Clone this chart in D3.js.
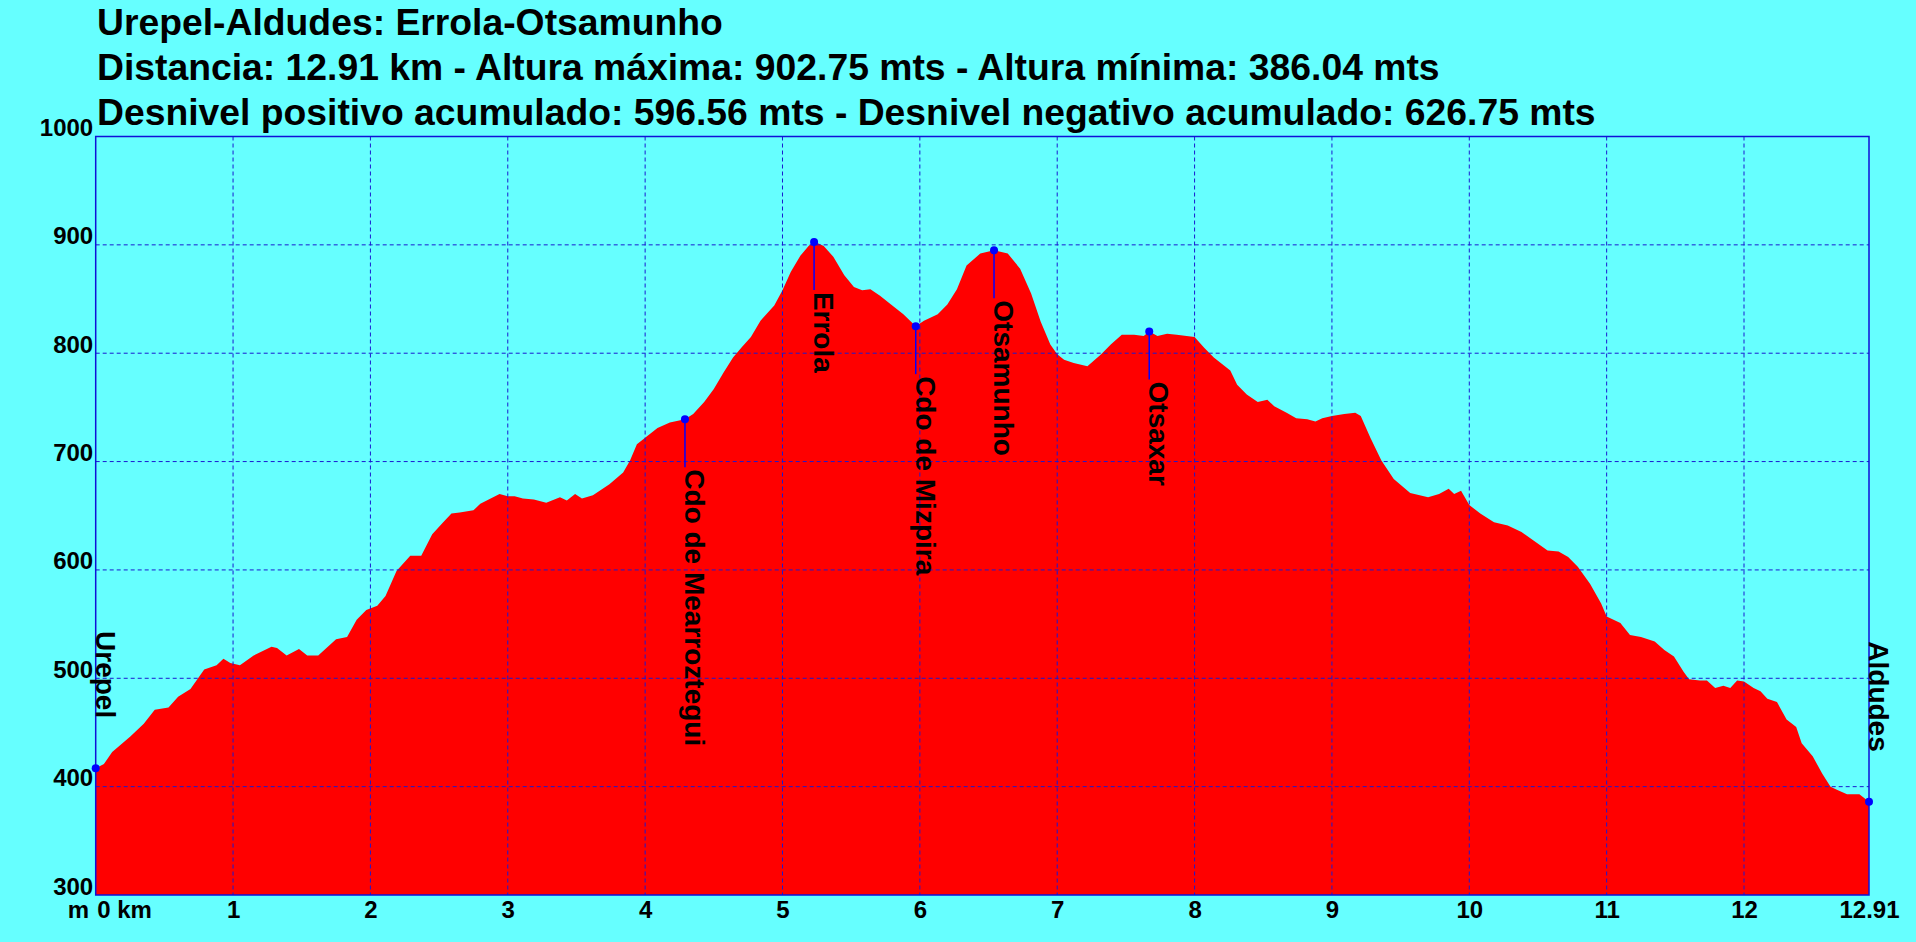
<!DOCTYPE html>
<html>
<head>
<meta charset="utf-8">
<script src="https://cdn.jsdelivr.net/npm/d3@7"></script>
<style>
  body { margin: 0; background: #66ffff; }
  svg { display: block; }
  text { font-family: "Liberation Sans", Arial, sans-serif; font-weight: bold; fill: #000; }
</style>
</head>
<body>
<div id="chart"></div>
<script>
// title lines
let titleLines = [
    "Urepel-Aldudes: Errola-Otsamunho",
    "Distancia: 12.91 km - Altura máxima: 902.75 mts - Altura mínima: 386.04 mts",
    "Desnivel positivo acumulado: 596.56 mts - Desnivel negativo acumulado: 626.75 mts"
];

// profile: distance (km) and elevation (m)
let distKm = [
    0.00, 0.06, 0.12, 0.25, 0.35, 0.43, 0.53, 0.60, 0.69, 0.79, 0.88, 0.93, 0.98, 1.05, 1.15, 1.28, 1.32, 1.39, 1.48, 1.54,
    1.62, 1.75, 1.83, 1.90, 1.97, 2.05, 2.11, 2.19, 2.29, 2.37, 2.45, 2.53, 2.59, 2.65, 2.75, 2.80, 2.94, 3.00, 3.05, 3.11,
    3.19, 3.28, 3.38, 3.43, 3.49, 3.54, 3.62, 3.74, 3.84, 3.89, 3.94, 4.00, 4.09, 4.18, 4.29, 4.35, 4.43, 4.50, 4.57, 4.64,
    4.70, 4.77, 4.84, 4.94, 5.00, 5.06, 5.13, 5.19, 5.23, 5.30, 5.37, 5.45, 5.52, 5.58, 5.64, 5.71, 5.79, 5.88, 5.97, 6.03,
    6.13, 6.20, 6.27, 6.34, 6.44, 6.54, 6.64, 6.73, 6.81, 6.88, 6.95, 7.00, 7.05, 7.12, 7.22, 7.32, 7.39, 7.47, 7.56, 7.63,
    7.67, 7.73, 7.80, 7.87, 8.00, 8.07, 8.14, 8.20, 8.26, 8.31, 8.38, 8.46, 8.53, 8.58, 8.67, 8.74, 8.82, 8.88, 8.93, 9.00,
    9.09, 9.17, 9.21, 9.28, 9.36, 9.45, 9.57, 9.70, 9.78, 9.85, 9.89, 9.94, 10.00, 10.08, 10.18, 10.28, 10.38, 10.47, 10.57, 10.65,
    10.72, 10.79, 10.88, 10.96, 11.00, 11.10, 11.17, 11.25, 11.35, 11.42, 11.49, 11.56, 11.60, 11.68, 11.73, 11.79, 11.85, 11.90, 11.95, 12.00,
    12.07, 12.12, 12.17, 12.24, 12.31, 12.38, 12.42, 12.50, 12.57, 12.63, 12.68, 12.75, 12.84, 12.91
];
let elevM = [
    417, 421, 432, 446, 458, 471, 473, 483, 490, 508, 512, 518, 514, 512, 521, 529, 528, 521, 527, 521,
    521, 536, 538, 554, 563, 567, 576, 599, 613, 613, 633, 644, 652, 653, 655, 661, 670, 668, 668, 666,
    665, 662, 667, 664, 670, 666, 669, 679, 690, 701, 716, 722, 731, 736, 739, 744, 755, 767, 782, 796,
    805, 815, 830, 844, 858, 875, 890, 899, 903, 899, 889, 872, 861, 858, 859, 853, 845, 836, 825, 830,
    836, 845, 859, 881, 892, 895, 892, 878, 855, 829, 808, 799, 794, 791, 788, 799, 808, 817, 817, 816,
    820, 816, 818, 817, 815, 805, 796, 790, 784, 771, 762, 755, 757, 751, 745, 740, 739, 737, 740, 742,
    744, 745, 742, 722, 701, 684, 671, 667, 670, 675, 670, 673, 660, 652, 644, 641, 635, 627, 618, 617,
    612, 603, 587, 569, 557, 551, 540, 538, 534, 526, 520, 506, 499, 498, 498, 491, 493, 491, 498, 497,
    491, 488, 481, 478, 462, 455, 440, 428, 412, 400, 397, 393, 393, 386
];

// waypoints
let wpNames = ["Urepel", "Cdo de Mearroztegui", "Errola", "Cdo de Mizpira", "Otsamunho", "Otsaxar", "Aldudes"];
let wpKm = [0, 4.29, 5.23, 5.97, 6.54, 7.67, 12.91];
let wpElev = [417, 739, 902.75, 825, 895, 820, 386.04];

// axes
let xTicks = [0, 1, 2, 3, 4, 5, 6, 7, 8, 9, 10, 11, 12, 12.91];
let yTicks = [300, 400, 500, 600, 700, 800, 900, 1000];

let width = 1916, height = 942;
let margin = {left: 95.7, right: 47, top: 136.5, bottom: 47};

let svg = d3.select("#chart").append("svg")
    .attr("width", width)
    .attr("height", height);

let x = d3.scaleLinear()
    .domain([0, 12.91])
    .range([margin.left, width - margin.right]);

let y = d3.scaleLinear()
    .domain([300, 1000])
    .range([height - margin.bottom, margin.top]);

// titles
svg.append("g")
    .selectAll("text")
    .data(titleLines)
    .join("text")
    .attr("x", 97)
    .attr("y", (d, i) => 35 + i * 44.8)
    .attr("font-size", "37.3px")
    .text(d => d);

// profile
let profile = distKm.map((d, i) => ({km: d, m: elevM[i]}));

let area = d3.area()
    .x(d => x(d.km))
    .y0(y(300))
    .y1(d => y(d.m));

svg.append("path")
    .datum(profile)
    .attr("fill", "#ff0000")
    .attr("d", area);

// grid
let grid = svg.append("g")
    .attr("stroke", "#1a1ad0")
    .attr("stroke-width", 1)
    .attr("stroke-dasharray", "4,3");

grid.selectAll(".vgrid")
    .data(xTicks.slice(1, -1))
    .join("line")
    .attr("x1", d => x(d)).attr("x2", d => x(d))
    .attr("y1", y(1000)).attr("y2", y(300));

grid.selectAll(".hgrid")
    .data(yTicks.slice(1, -1))
    .join("line")
    .attr("x1", x(0)).attr("x2", x(12.91))
    .attr("y1", d => y(d)).attr("y2", d => y(d));

// frame
svg.append("rect")
    .attr("x", x(0))
    .attr("y", y(1000))
    .attr("width", x(12.91) - x(0))
    .attr("height", y(300) - y(1000))
    .attr("fill", "none")
    .attr("stroke", "#1010d8")
    .attr("stroke-width", 1.5);

// x axis
let xAxis = svg.append("g")
    .attr("transform", `translate(0,${y(300)})`)
    .call(d3.axisBottom(x)
        .tickValues(xTicks)
        .tickSize(0)
        .tickFormat(d => d === 0 ? "0 km" : (d % 1 ? d3.format(".2f")(d) : d)));

xAxis.select(".domain").remove();
xAxis.selectAll("text")
    .attr("dy", null)
    .attr("y", 23)
    .attr("font-size", "24px")
    .attr("font-family", null)
    .attr("text-anchor", d => d === 0 ? "start" : "middle")
    .attr("x", d => d === 0 ? 1 : 0);

svg.append("text")
    .attr("x", 89)
    .attr("y", y(300) + 23)
    .attr("text-anchor", "end")
    .attr("font-size", "24px")
    .text("m");

// y axis
let yAxis = svg.append("g")
    .attr("transform", `translate(${x(0)},0)`)
    .call(d3.axisLeft(y)
        .tickValues(yTicks)
        .tickSize(0)
        .tickFormat(d3.format("d")));

yAxis.select(".domain").remove();
yAxis.selectAll("text")
    .attr("dy", null)
    .attr("x", -2.5)
    .attr("y", -1)
    .attr("font-size", "24px")
    .attr("font-family", null);

// waypoints
let waypoints = wpNames.map((d, i) => ({name: d, km: wpKm[i], m: wpElev[i]}));
let last = waypoints.length - 1;

let wp = svg.append("g")
    .selectAll("g")
    .data(waypoints)
    .join("g")
    .attr("transform", d => `translate(${x(d.km)},${y(d.m)})`);

wp.filter((d, i) => i > 0 && i < last)
    .append("line")
    .attr("x1", 0).attr("x2", 0)
    .attr("y1", 0).attr("y2", 48)
    .attr("stroke", "#0000ff")
    .attr("stroke-width", 1.5);

wp.append("circle")
    .attr("r", 4)
    .attr("fill", "#0000ff");

wp.append("text")
    .attr("transform", (d, i) => (i === 0 || i === last) ? "translate(0,-50) rotate(90)" : "translate(0,50) rotate(90)")
    .attr("text-anchor", (d, i) => (i === 0 || i === last) ? "end" : "start")
    .attr("font-size", "28px")
    .text(d => d.name);
</script>
</body>
</html>
